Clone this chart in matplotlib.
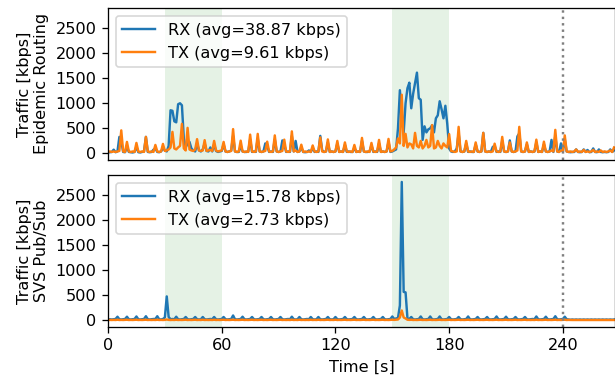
import numpy as np
import matplotlib
matplotlib.use("Agg")
import matplotlib.pyplot as plt

# time axis (seconds)
time_s = list(range(268))

# Epidemic Routing - RX (kbps)
epi_rx = [
    20, 25, 30, 75, 25, 40, 330, 250, 30, 25,
    140, 30, 25, 20, 30, 130, 25, 20, 30, 40,
    330, 30, 25, 30, 75, 100, 30, 25, 40, 110,
    60, 40, 150, 860, 850, 640, 620, 980, 1000, 960,
    300, 120, 200, 230, 100, 60, 40, 200, 60, 40,
    80, 200, 50, 40, 120, 40, 180, 50, 30, 40,
    50, 180, 40, 30, 40, 60, 350, 40, 30, 30,
    150, 40, 30, 30, 40, 280, 30, 40, 30, 300,
    40, 30, 40, 200, 150, 30, 40, 30, 280, 40,
    30, 40, 260, 180, 30, 40, 30, 350, 40, 250,
    30, 40, 120, 30, 25, 30, 60, 30, 110, 30,
    40, 30, 350, 60, 30, 40, 220, 30, 40, 30,
    40, 200, 30, 40, 30, 170, 30, 40, 30, 30,
    110, 30, 40, 30, 250, 40, 30, 30, 40, 160,
    30, 40, 30, 200, 30, 40, 30, 40, 230, 30,
    40, 60, 80, 500, 1260, 800, 420, 1000, 1300, 1410,
    900, 1190, 1400, 1610, 1100, 1070, 270, 540, 420, 480,
    500, 560, 420, 700, 760, 1040, 880, 700, 950, 590,
    100, 40, 30, 40, 100, 400, 40, 30, 40, 200,
    30, 40, 30, 30, 180, 40, 30, 40, 410, 40,
    30, 40, 30, 130, 150, 30, 40, 30, 250, 40,
    30, 40, 260, 40, 30, 40, 340, 400, 40, 30,
    40, 180, 30, 40, 30, 40, 220, 30, 40, 30,
    180, 40, 30, 40, 270, 30, 350, 40, 30, 200,
    40, 280, 40, 30, 25, 30, 30, 80, 30, 25,
    30, 80, 30, 70, 25, 30, 100, 30, 25, 80,
    30, 25, 30, 25, 30, 80, 30, 60,
]

# Epidemic Routing - TX (kbps)
epi_tx = [
    30, 40, 30, 40, 30, 40, 50, 460, 40, 30,
    230, 40, 30, 40, 30, 210, 40, 30, 40, 30,
    330, 40, 30, 40, 30, 170, 40, 30, 40, 190,
    50, 60, 80, 120, 430, 100, 80, 120, 150, 590,
    100, 60, 510, 80, 60, 50, 80, 285, 60, 50,
    60, 265, 50, 60, 70, 50, 250, 60, 40, 50,
    60, 230, 40, 30, 40, 50, 485, 40, 30, 40,
    255, 40, 30, 40, 30, 375, 40, 30, 40, 390,
    40, 30, 40, 50, 235, 40, 30, 40, 360, 40,
    30, 40, 50, 275, 40, 30, 40, 440, 40, 60,
    30, 40, 175, 30, 40, 30, 40, 30, 160, 40,
    30, 40, 320, 40, 30, 40, 280, 30, 40, 30,
    40, 250, 30, 40, 30, 220, 40, 30, 40, 30,
    170, 30, 40, 30, 310, 40, 30, 40, 30, 210,
    40, 30, 40, 270, 30, 40, 30, 40, 290, 40,
    50, 80, 120, 300, 200, 1170, 150, 390, 120, 200,
    180, 100, 410, 150, 120, 250, 100, 150, 270, 120,
    150, 565, 100, 120, 250, 150, 100, 200, 150, 120,
    385, 50, 40, 30, 40, 530, 40, 30, 40, 250,
    40, 30, 40, 30, 220, 40, 30, 40, 410, 40,
    30, 40, 30, 40, 195, 40, 30, 40, 330, 40,
    30, 40, 220, 40, 30, 40, 60, 530, 40, 30,
    40, 220, 30, 40, 30, 40, 275, 30, 40, 30,
    235, 40, 30, 40, 60, 40, 470, 40, 30, 60,
    40, 360, 40, 30, 40, 30, 40, 80, 30, 40,
    30, 70, 30, 40, 30, 40, 70, 30, 40, 30,
    60, 30, 40, 30, 40, 60, 30, 120,
]

# SVS Pub/Sub - RX (kbps)
svs_rx = [
    20, 25, 20, 25, 30, 75, 25, 20, 25, 30,
    75, 25, 20, 25, 30, 80, 25, 20, 25, 30,
    85, 25, 20, 25, 30, 30, 85, 25, 20, 30,
    60, 480, 70, 25, 30, 25, 75, 25, 20, 25,
    30, 70, 25, 20, 25, 30, 70, 25, 20, 25,
    70, 25, 20, 25, 30, 25, 70, 25, 20, 25,
    30, 70, 25, 20, 25, 30, 100, 25, 20, 25,
    30, 75, 25, 20, 25, 30, 70, 25, 20, 25,
    30, 70, 25, 20, 25, 30, 70, 25, 20, 25,
    30, 70, 25, 20, 25, 30, 25, 75, 25, 20,
    25, 70, 25, 20, 25, 30, 25, 70, 25, 20,
    25, 70, 25, 20, 25, 30, 70, 25, 20, 25,
    70, 25, 20, 25, 30, 70, 25, 20, 25, 30,
    70, 25, 20, 25, 30, 70, 25, 20, 25, 30,
    70, 25, 20, 25, 30, 70, 25, 20, 25, 30,
    80, 30, 40, 50, 300, 2760, 570, 560, 40, 30,
    70, 25, 20, 25, 30, 80, 25, 20, 25, 30,
    80, 25, 20, 25, 30, 80, 25, 20, 25, 30,
    70, 25, 20, 25, 30, 70, 25, 20, 25, 30,
    80, 25, 20, 25, 30, 70, 25, 20, 25, 30,
    70, 25, 20, 25, 30, 80, 25, 20, 25, 30,
    75, 25, 20, 25, 30, 70, 25, 20, 25, 30,
    70, 25, 20, 25, 30, 25, 80, 25, 20, 25,
    30, 75, 25, 20, 25, 30, 85, 25, 20, 25,
    30, 75, 25, 20, 15, 20, 15, 20, 15, 20,
    15, 20, 15, 20, 15, 20, 15, 20, 15, 20,
    15, 20, 15, 20, 15, 20, 15, 20,
]

# SVS Pub/Sub - TX (kbps)
svs_tx = [
    10, 12, 10, 12, 10, 15, 10, 12, 10, 12,
    15, 10, 12, 10, 12, 15, 10, 12, 10, 12,
    15, 10, 12, 10, 12, 10, 15, 10, 12, 10,
    12, 20, 12, 10, 12, 10, 15, 10, 12, 10,
    12, 15, 10, 12, 10, 12, 15, 10, 12, 10,
    15, 10, 12, 10, 12, 10, 15, 10, 12, 10,
    12, 15, 10, 12, 10, 12, 15, 10, 12, 10,
    12, 15, 10, 12, 10, 12, 15, 10, 12, 10,
    12, 15, 10, 12, 10, 12, 15, 10, 12, 10,
    12, 15, 10, 12, 10, 12, 10, 15, 10, 12,
    10, 15, 10, 12, 10, 12, 10, 15, 10, 12,
    10, 15, 10, 12, 10, 12, 15, 10, 12, 10,
    15, 10, 12, 10, 12, 15, 10, 12, 10, 12,
    15, 10, 12, 10, 12, 15, 10, 12, 10, 12,
    15, 10, 12, 10, 12, 15, 10, 12, 10, 12,
    15, 12, 15, 20, 60, 200, 60, 40, 15, 12,
    15, 10, 12, 10, 12, 15, 10, 12, 10, 12,
    15, 10, 12, 10, 12, 15, 10, 12, 10, 12,
    15, 10, 12, 10, 12, 15, 10, 12, 10, 12,
    15, 10, 12, 10, 12, 15, 10, 12, 10, 12,
    15, 10, 12, 10, 12, 15, 10, 12, 10, 12,
    15, 10, 12, 10, 12, 15, 10, 12, 10, 12,
    15, 10, 12, 10, 12, 10, 15, 10, 12, 10,
    12, 15, 10, 12, 10, 12, 15, 10, 12, 10,
    12, 15, 10, 12, 10, 10, 10, 10, 10, 10,
    10, 10, 10, 10, 10, 10, 10, 10, 10, 10,
    10, 10, 10, 10, 10, 10, 10, 10,
]

panel_names = ["Epidemic Routing", "SVS Pub/Sub"]
rx_labels = ["RX (avg=38.87 kbps)", "RX (avg=15.78 kbps)"]
tx_labels = ["TX (avg=9.61 kbps)", "TX (avg=2.73 kbps)"]
shade_windows = [(30, 60), (150, 180)]
marker_time = 240
xticks = [0, 60, 120, 180, 240]

DPI = 116
fig, axes = plt.subplots(2, 1, figsize=(615 / DPI, 381 / DPI), dpi=DPI,
                         sharex=True, sharey=True)
fig.subplots_adjust(left=0.1756, right=1.0, top=0.979, bottom=0.142, hspace=0.1)

series = [(epi_rx, epi_tx), (svs_rx, svs_tx)]
for i, ax in enumerate(axes):
    rx, tx = series[i]
    for (a, b) in shade_windows:
        ax.axvspan(a, b, color="green", alpha=0.1, lw=0)
    ax.plot(time_s, rx, color="tab:blue", lw=1.5, label=rx_labels[i])
    ax.plot(time_s, tx, color="tab:orange", lw=1.5, label=tx_labels[i])
    ax.axvline(marker_time, color="grey", ls=":", lw=1.5)
    ax.set_ylabel("Traffic [kbps]\n" + panel_names[i])
    ax.legend(loc="upper left")
    ax.set_yticks([0, 500, 1000, 1500, 2000, 2500])

axes[0].tick_params(axis="x", bottom=False)
axes[1].set_xticks(xticks)
axes[1].set_xlim(0, 267.5)
axes[1].set_xlabel("Time [s]")

fig.savefig("out.png", dpi=DPI)
